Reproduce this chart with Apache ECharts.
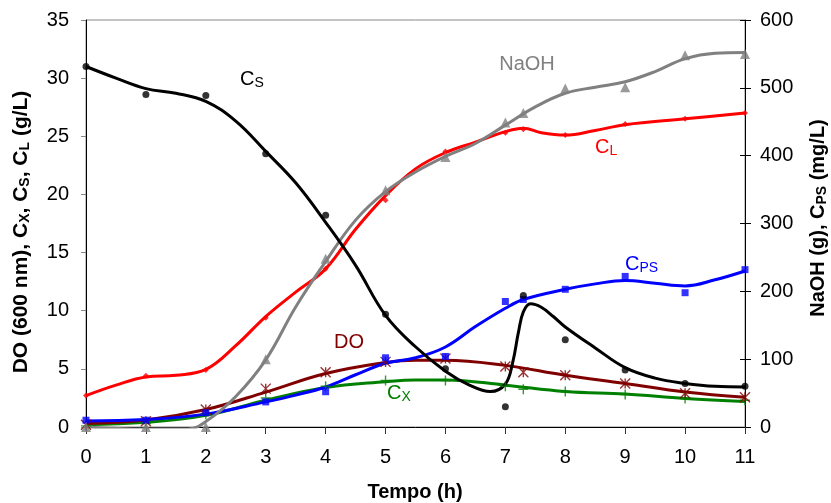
<!DOCTYPE html>
<html>
<head>
<meta charset="utf-8">
<script src="https://cdn.jsdelivr.net/npm/echarts@6/dist/echarts.min.js"></script>
<style>html,body{margin:0;padding:0;background:#fff}#c{width:831px;height:503px}</style>
</head>
<body>
<div id="c"></div>
<script>
// measured sample times (h)
const hours = [0, 1, 2, 3, 4, 5, 6, 7, 7.3, 8, 9, 10, 11];
// measured points
const csPoints   = [31, 28.6, 28.5, 23.5, 18.2, 9.7, 5.0, 1.75, 11.3, 7.5, 4.9, 3.75, 3.5];
const clPoints   = [2.7, 4.4, 4.9, 9.4, 13.6, 19.5, 23.7, 25.3, 25.6, 25.1, 26.05, 26.5, 27.0];
const doPoints   = [0.2, 0.5, 1.5, 3.3, 4.7, 5.6, 5.9, 5.2, 4.7, 4.45, 3.75, 2.9, 2.55];
const cxPoints   = [0.1, 0.3, 1.1, 2.5, 3.5, 4.0, 4.0, 3.5, 3.25, 3.05, 2.8, 2.45, 2.3];
const naohPoints = [0, 0, 0, 100, 248, 349, 398, 449, 463, 499, 501, 548, 550];
const cpsPoints  = [10, 10, 21, 37, 52, 102, 104, 185, 188, 203, 222, 198, 232];

// fitted model curves
const csCurveT = [0, 0.5, 1, 1.5, 2, 2.5, 3, 3.5, 4, 4.5, 5, 5.5, 6, 6.4, 6.75, 7.0, 7.12, 7.22, 7.3, 7.42, 7.6, 7.8, 8, 8.5, 9, 9.5, 10, 10.5, 11];
const csCurveV = [31, 30, 29.1, 28.7, 28.0, 26.3, 23.7, 21.0, 17.6, 13.9, 9.6, 6.9, 4.8, 3.6, 3.05, 3.7, 5.5, 8.2, 9.9, 10.6, 10.3, 9.5, 8.6, 6.8, 5.1, 4.2, 3.75, 3.5, 3.45];
const clCurveT = [0, 0.5, 1, 1.5, 2, 2.5, 3, 3.5, 4, 4.5, 5, 5.5, 6, 6.5, 7, 7.3, 7.6, 8, 8.5, 9, 10, 11];
const clCurveV = [2.7, 3.6, 4.3, 4.45, 4.95, 7.0, 9.5, 11.6, 13.6, 17.0, 19.9, 22.2, 23.6, 24.5, 25.4, 25.7, 25.3, 25.1, 25.5, 26.0, 26.5, 27.0];
const doCurveT = [0, 1, 2, 3, 4, 5, 5.5, 6, 7, 8, 9, 10, 11];
const doCurveV = [0.3, 0.6, 1.5, 3.0, 4.6, 5.55, 5.75, 5.75, 5.3, 4.45, 3.75, 3.0, 2.55];
const cxCurveT = [0, 1, 2, 3, 4, 5, 5.5, 6, 7, 8, 9, 10, 11];
const cxCurveV = [0.2, 0.4, 1.0, 2.3, 3.4, 3.9, 4.05, 4.05, 3.6, 3.05, 2.83, 2.46, 2.2];
const cpsCurveT = [0, 1, 2, 3, 3.5, 4, 4.5, 5, 5.5, 6, 6.5, 7, 7.3, 8, 8.5, 9, 9.5, 10, 10.5, 11];
const cpsCurveV = [9, 11, 19, 37, 47, 59, 77, 94, 102, 118, 148, 175, 188, 203, 211, 216, 212, 208, 217, 230];
const naohCurveT = [0, 1, 1.7, 2, 2.5, 3, 3.5, 4, 4.5, 5, 5.5, 6, 6.5, 7, 7.5, 8, 8.5, 9, 9.5, 10, 10.5, 11];
const naohCurveV = [0, -3, -3, 8, 45, 99, 177, 244, 305, 347, 376, 399, 418, 445, 472, 492, 501, 509, 524, 543, 551, 552];

const FONT = "'Liberation Sans', Arial, sans-serif";
const pair = (ts, vs) => ts.map((t, i) => [t, vs[i]]);

const ASTER = 'path://M0,0L10,10M10,0L0,10M5,0L5,10';
const PLUS = 'path://M5,0L5,10M0,5L10,5';

function curve(name, ts, vs, color, yIdx, z) {
  return { name, type: 'line', yAxisIndex: yIdx, data: pair(ts, vs), smooth: 0.4,
    showSymbol: false, lineStyle: { color, width: 3 }, itemStyle: { color }, z, silent: true };
}
function pts(name, vs, color, yIdx, symbol, size, stroke) {
  const s = { name, type: 'scatter', yAxisIndex: yIdx, data: pair(hours, vs), symbol, symbolSize: size, z: 10, silent: true };
  s.itemStyle = stroke ? { color: 'rgba(0,0,0,0)', borderColor: color, borderWidth: 1.4 } : { color };
  return s;
}

const rich = (size, color, weight) => ({
  m: { fontSize: size, fontFamily: FONT, color, fontWeight: weight, lineHeight: size + 2 },
  s: { fontSize: Math.round(size * 0.68), fontFamily: FONT, color, fontWeight: weight, lineHeight: Math.round(size * 0.68), verticalAlign: 'bottom' }
});
function lbl(x, y, text, color, align) {
  return { type: 'text', x, y, z: 100, silent: true,
    style: { text, align: align || 'left', verticalAlign: 'middle', rich: rich(20, color, 'normal'), fill: color, font: '20px ' + FONT } };
}

const chart = echarts.init(document.getElementById('c'), null, { renderer: 'canvas' });
chart.setOption({
  animation: false,
  backgroundColor: '#fff',
  grid: { left: 86, right: 86, top: 20, bottom: 76, show: true, borderColor: '#888', borderWidth: 1, backgroundColor: 'transparent' },
  xAxis: {
    type: 'value', min: 0, max: 11, interval: 1,
    axisLine: { onZero: false, lineStyle: { color: '#000', width: 1 } },
    axisTick: { length: 7, lineStyle: { color: '#333' } },
    axisLabel: { fontSize: 20, fontFamily: FONT, color: '#000', margin: 20 },
    splitLine: { show: false }
  },
  yAxis: [
    { type: 'value', min: 0, max: 35, interval: 5, position: 'left',
      axisLine: { show: true, lineStyle: { color: '#000' } },
      axisTick: { show: true, length: 5, lineStyle: { color: '#888' } },
      axisLabel: { fontSize: 20, fontFamily: FONT, color: '#000', margin: 17 },
      splitLine: { show: false } },
    { type: 'value', min: 0, max: 600, interval: 100, position: 'right',
      axisLine: { show: true, lineStyle: { color: '#000' } },
      axisTick: { show: true, length: 6, lineStyle: { color: '#000' } },
      axisLabel: { fontSize: 20, fontFamily: FONT, color: '#000', margin: 15 },
      splitLine: { show: false } },
    { type: 'value', min: 0, max: 600, interval: 100, position: 'right',
      axisLine: { show: false },
      axisTick: { show: true, inside: true, length: 5, lineStyle: { color: '#000' } },
      axisLabel: { show: false },
      splitLine: { show: false } }
  ],
  series: [
    curve('CX', cxCurveT, cxCurveV, '#008000', 0, 2),
    curve('DO', doCurveT, doCurveV, '#800000', 0, 2),
    curve('CPS', cpsCurveT, cpsCurveV, '#0000FF', 1, 2),
    curve('CL', clCurveT, clCurveV, '#FF0000', 0, 2),
    curve('NaOH', naohCurveT, naohCurveV, '#808080', 1, 2),
    curve('CS', csCurveT, csCurveV, '#000000', 0, 2),
    pts('CX pts', cxPoints, '#008000', 0, PLUS, 10, true),
    pts('DO pts', doPoints, '#800000', 0, ASTER, 10, true),
    pts('CPS pts', cpsPoints, '#0000FF', 1, 'rect', 7, false),
    pts('CL pts', clPoints, '#FF0000', 0, 'diamond', 6, false),
    pts('NaOH pts', naohPoints, '#808080', 1, 'triangle', 10, false),
    pts('CS pts', csPoints, '#000000', 0, 'circle', 7, false)
  ],
  graphic: [
    lbl(240, 79, '{m|C}{s|S}', '#000000'),
    lbl(527, 64, '{m|NaOH}', '#808080', 'center'),
    lbl(595, 147, '{m|C}{s|L}', '#FF0000'),
    lbl(625, 264, '{m|C}{s|PS}', '#0000FF'),
    lbl(349, 342, '{m|DO}', '#800000', 'center'),
    lbl(387, 393, '{m|C}{s|X}', '#008000'),
    { type: 'text', x: 415, y: 492, z: 100, silent: true,
      style: { text: 'Tempo (h)', align: 'center', verticalAlign: 'middle', font: 'bold 20px ' + FONT, fill: '#000' } },
    { type: 'text', x: 21, y: 232, rotation: Math.PI / 2, z: 100, silent: true,
      style: { text: '{m|DO (600 nm), C}{s|X}{m|, C}{s|S}{m|, C}{s|L}{m| (g/L)}', align: 'center', verticalAlign: 'middle',
        rich: rich(21, '#000', 'bold'), fill: '#000', font: 'bold 21px ' + FONT } },
    { type: 'text', x: 818, y: 218, rotation: Math.PI / 2, z: 100, silent: true,
      style: { text: '{m|NaOH (g), C}{s|PS}{m| (mg/L)}', align: 'center', verticalAlign: 'middle',
        rich: rich(20, '#000', 'bold'), fill: '#000', font: 'bold 20px ' + FONT } }
  ]
});
</script>
</body>
</html>
